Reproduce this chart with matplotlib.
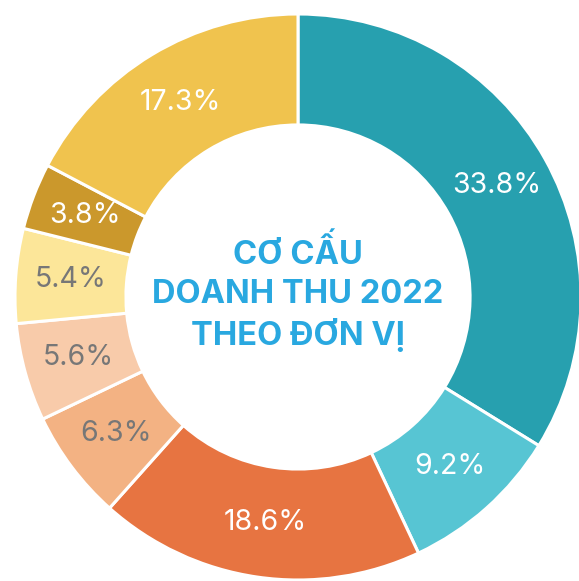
import matplotlib
matplotlib.use("Agg")
import matplotlib.pyplot as plt

# Cơ cấu doanh thu 2022 theo đơn vị (%)
gia_tri = [33.8, 9.2, 18.6, 6.3, 5.6, 5.4, 3.8, 17.3]
mau = ['#27A0AF', '#57C5D3', '#E77441', '#F3B283', '#F8CBAA', '#FCE699', '#CB982C', '#F0C34E']
mau_chu = ['white', 'white', 'white', '#777777', '#777777', '#777777', 'white', 'white']
tieu_de = "CƠ CẤU\nDOANH THU 2022\nTHEO ĐƠN VỊ"

plt.rcParams['font.family'] = ['Inter', 'DejaVu Sans']

W, H = 579, 581
cx, cy, R = 298, 297, 283  # tâm và bán kính (pixel)

fig = plt.figure(figsize=(W / 100, H / 100), dpi=100)
ax = fig.add_axes([0, 0, 1, 1])

wedges, texts, autotexts = ax.pie(
    gia_tri, colors=mau, startangle=90, counterclock=False,
    autopct=lambda p: f"{p:.1f}%", pctdistance=0.805,
    wedgeprops=dict(width=0.392, edgecolor='white', linewidth=2.2),
    textprops=dict(fontsize=20.5))

for t, c in zip(autotexts, mau_chu):
    t.set_color(c)

ax.text(0, 0.012, tieu_de, ha='center', va='center', fontsize=23.5,
        fontweight='bold', color='#29A8E0', linespacing=1.3)

ax.set_xlim(-cx / R, (W - cx) / R)
ax.set_ylim(-(H - cy) / R, cy / R)
ax.set_aspect('equal', adjustable='box')
ax.axis('off')

fig.savefig("out.png", dpi=100)
